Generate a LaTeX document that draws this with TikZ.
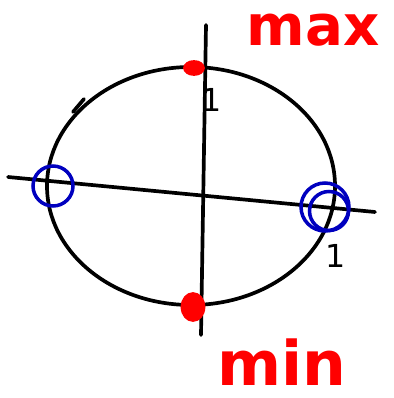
\documentclass[tikz,border=0pt]{standalone}
\usepackage{fontspec}
\setmainfont{DejaVu Sans}
\usetikzlibrary{positioning, calc, shapes.geometric}

\begin{document}
\begin{tikzpicture}[
  x=0.02cm, y=-0.02cm,
  pen/.style={line width=2.1pt, line cap=round, line join=round},
  blue ring/.style={draw=blue!75!black, line width=2pt, circle, inner sep=0pt},
  red blob/.style={fill=red, draw=red, line width=1pt, ellipse, inner sep=0pt},
  word/.style={text=red, font=\fontsize{32}{34}\selectfont\bfseries, inner sep=0pt},
  unit/.style={font=\fontsize{18}{20}\selectfont, inner sep=0pt}
]
  \useasboundingbox (0,0) rectangle (393,398);

  %% CIRCLE
  \draw[pen] (191,186) ellipse [x radius=144, y radius=119];
  \draw[pen] (73,112) -- (84,99);

  %% AXES
  \coordinate (xl) at (8,177);
  \coordinate (xr) at (375,212);
  \coordinate (yt) at (206,25);
  \coordinate (yb) at (201,335);
  \draw[pen] (xl) -- (xr);
  \draw[pen] (yt) -- (yb);

  %% EXTREMA
  \node[red blob, minimum width=0.4cm, minimum height=0.28cm] (top) at (194,68) {};
  \node[red blob, minimum width=0.46cm, minimum height=0.56cm] (bot) at (193,307) {};
  \node[blue ring, minimum size=0.8cm] (left) at (53,186) {};
  \node[blue ring, minimum size=0.96cm] (right) at (325,207) {};
  \node[blue ring, minimum size=0.78cm] at (329,211) {};

  %% LABELS
  \node[unit] (one y) at (212,100) {1};
  \node[unit] (one x) at (336,256) {1};
  \node[word] (max) at (313,30) {max};
  \node[word, font=\fontsize{35}{37}\selectfont\bfseries] (min) at (282,362) {min};
\end{tikzpicture}
\end{document}
